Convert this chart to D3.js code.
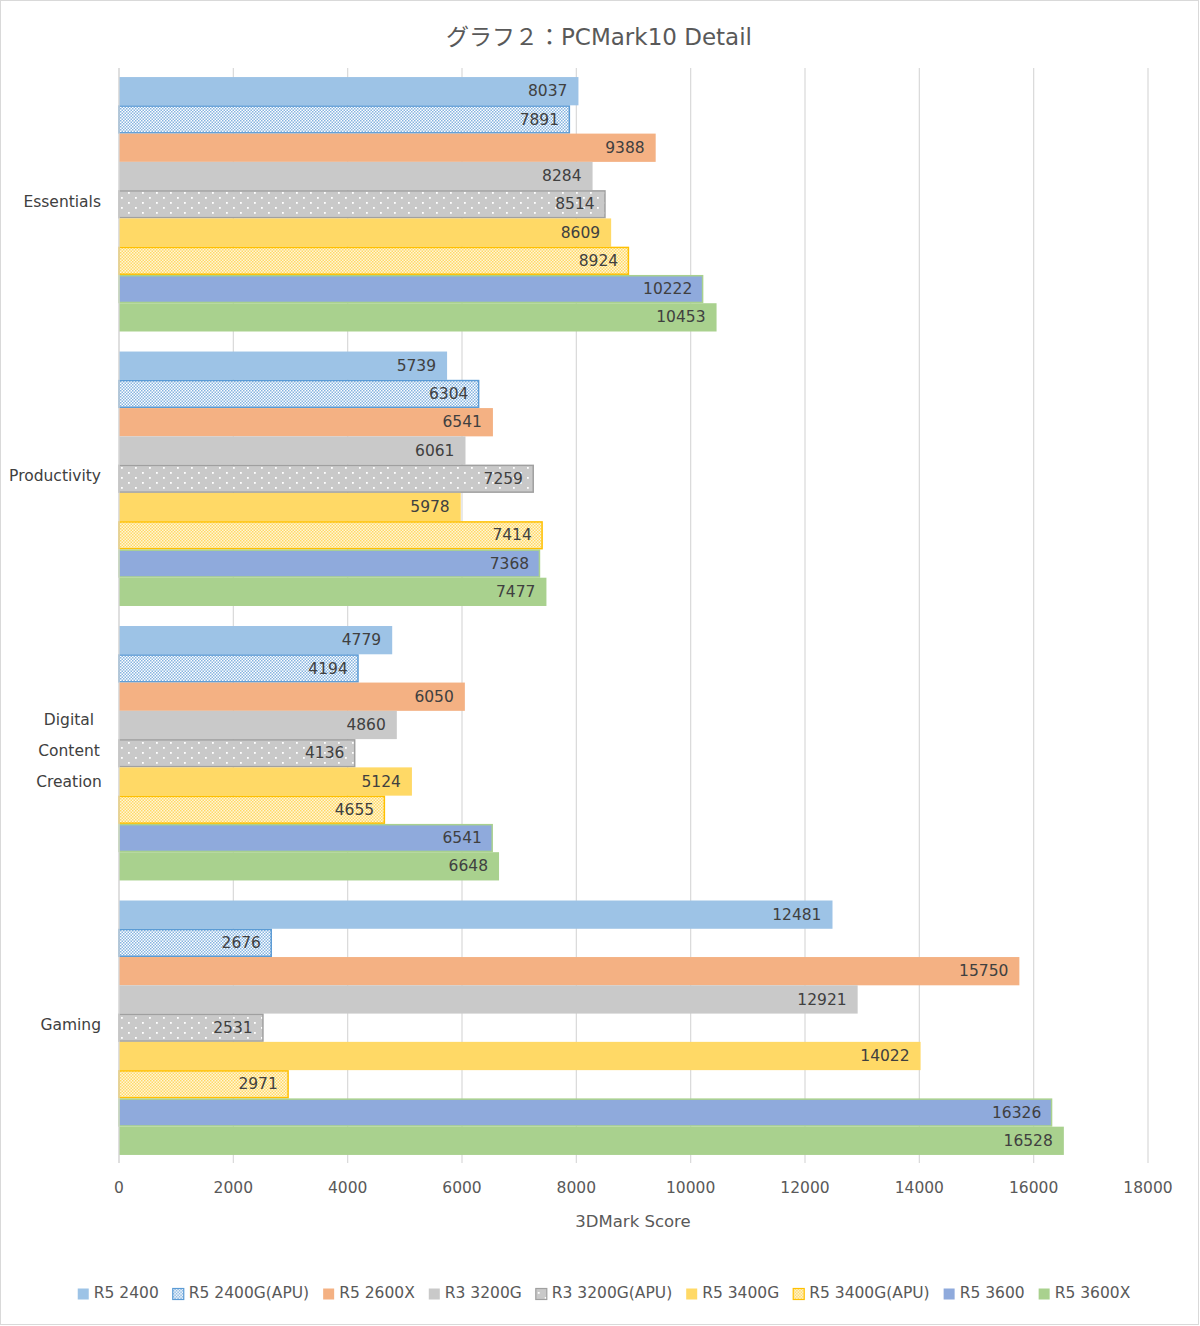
<!DOCTYPE html>
<html><head><meta charset="utf-8">
<script src="https://cdn.jsdelivr.net/npm/d3@7"></script>
<style>body{margin:0;background:#fff}svg{display:block}text{font-family:"DejaVu Sans","Noto Sans CJK JP",sans-serif}</style>
</head><body><svg id="c" width="1200" height="1326"></svg>
<script>
const categories = ["Essentials", "Productivity", "Digital Content Creation", "Gaming"];
const categoryLines = [["Essentials"], ["Productivity"], ["Digital", "Content", "Creation"], ["Gaming"]];
const seriesNames = ["R5 2400", "R5 2400G(APU)", "R5 2600X", "R3 3200G", "R3 3200G(APU)", "R5 3400G", "R5 3400G(APU)", "R5 3600", "R5 3600X"];
const r5_2400     = [8037, 5739, 4779, 12481];
const r5_2400g    = [7891, 6304, 4194, 2676];
const r5_2600x    = [9388, 6541, 6050, 15750];
const r3_3200g    = [8284, 6061, 4860, 12921];
const r3_3200gapu = [8514, 7259, 4136, 2531];
const r5_3400g    = [8609, 5978, 5124, 14022];
const r5_3400gapu = [8924, 7414, 4655, 2971];
const r5_3600     = [10222, 7368, 6541, 16326];
const r5_3600x    = [10453, 7477, 6648, 16528];
const seriesValues = [r5_2400, r5_2400g, r5_2600x, r3_3200g, r3_3200gapu, r5_3400g, r5_3400gapu, r5_3600, r5_3600x];
const xTicks = [0, 2000, 4000, 6000, 8000, 10000, 12000, 14000, 16000, 18000];
const title = "グラフ２：PCMark10 Detail";
const xTitle = "3DMark Score";

const fills = ["#9dc3e6", "url(#p2400g)", "#f4b183", "#c9c9c9", "url(#p3200g)", "#ffd966", "url(#p3400g)", "#8faadc", "#a9d18e"];
const strokes = [null, "#5b9bd5", null, null, "#a0a0a0", null, "#ffc000", "#a9d18e", null];

const svg = d3.select("#c");
const defs = svg.append("defs");
function dotPattern(id, w, h, bg, dotColor, dots, r) {
  const p = defs.append("pattern").attr("id", id).attr("patternUnits", "userSpaceOnUse").attr("width", w).attr("height", h);
  p.append("rect").attr("width", w).attr("height", h).attr("fill", bg);
  dots.forEach(d => p.append("rect").attr("x", d[0]).attr("y", d[1]).attr("width", r).attr("height", r).attr("fill", dotColor));
}
dotPattern("p2400g", 3, 3, "#ffffff", "#86b4e0", [[0,0],[1.5,1.5]], 1.5);
dotPattern("p3200g", 14, 10, "#c9c9c9", "#ffffff", [[2,2],[9,7]], 1.8);
dotPattern("p3400g", 3, 3, "#fff6d8", "#ffd966", [[0,0],[1.5,1.5]], 1.5);

svg.append("rect").attr("x", 0.5).attr("y", 0.5).attr("width", 1198).attr("height", 1324).attr("fill", "#fff").attr("stroke", "#d9d9d9");

const pLeft = 119, pRight = 1148, pTop = 68, pBottom = 1164;
const x = d3.scaleLinear().domain([0, 18000]).range([pLeft, pRight]);
const y = d3.scaleBand().domain(categories).range([pTop, pBottom]).paddingInner(0.073).paddingOuter(0.033);
const ys = d3.scaleBand().domain(seriesNames).range([0, y.bandwidth()]).padding(0);

svg.append("g").selectAll("line").data(xTicks).join("line")
  .attr("x1", d => x(d)).attr("x2", d => x(d)).attr("y1", pTop).attr("y2", pBottom - 1)
  .attr("stroke", "#d9d9d9").attr("stroke-width", 1.2);

const g = svg.append("g");
seriesNames.forEach((s, si) => {
  const sg = g.append("g");
  const st = strokes[si];
  sg.selectAll("rect").data(seriesValues[si]).join("rect")
    .attr("x", x(0))
    .attr("y", (d, i) => y(categories[i]) + ys(s) + (st ? 0.75 : 0))
    .attr("width", d => x(d) - x(0) - (st ? 0.75 : 0))
    .attr("height", ys.bandwidth() - (st ? 1.5 : 0))
    .attr("fill", fills[si])
    .attr("stroke", st || "none")
    .attr("stroke-width", st ? 1.5 : 0);
  sg.selectAll("text").data(seriesValues[si]).join("text")
    .attr("x", d => x(d) - 11)
    .attr("y", (d, i) => y(categories[i]) + ys(s) + ys.bandwidth() / 2)
    .attr("dy", "0.33em").attr("text-anchor", "end")
    .attr("font-size", 15.5).attr("fill", "#404040")
    .text(d => d);
});

svg.append("line").attr("x1", pLeft).attr("x2", pLeft).attr("y1", pTop).attr("y2", pBottom - 1).attr("stroke", "#d9d9d9").attr("stroke-width", 1.2);

categories.forEach((c, i) => {
  const lines = categoryLines[i];
  const cy = y(c) + y.bandwidth() / 2 - 3;
  const lh = 31;
  const multi = lines.length > 1;
  lines.forEach((l, li) => {
    svg.append("text")
      .attr("x", multi ? 69 : 101)
      .attr("y", cy + (li - (lines.length - 1) / 2) * lh)
      .attr("dy", "0.36em").attr("text-anchor", multi ? "middle" : "end")
      .attr("font-size", 15.5).attr("fill", "#404040").text(l);
  });
});

svg.append("g").selectAll("text").data(xTicks).join("text")
  .attr("x", d => x(d)).attr("y", 1187).attr("dy", "0.36em").attr("text-anchor", "middle")
  .attr("font-size", 15.5).attr("fill", "#595959").text(d => d);

svg.append("text").attr("x", 633).attr("y", 1221).attr("dy", "0.36em").attr("text-anchor", "middle")
  .attr("font-size", 16.5).attr("fill", "#595959").text(xTitle);

svg.append("text").attr("x", 599).attr("y", 37).attr("dy", "0.36em").attr("text-anchor", "middle")
  .attr("font-size", 23).attr("fill", "#595959").text(title);

const lg = svg.append("g");
let lx = 0;
seriesNames.forEach((s, si) => {
  const it = lg.append("g").attr("transform", `translate(${lx},0)`);
  it.append("rect").attr("x", 0).attr("y", 1294 - 5.5).attr("width", 11).attr("height", 11)
    .attr("fill", fills[si]).attr("stroke", strokes[si] && si !== 7 ? strokes[si] : "none").attr("stroke-width", 1.2);
  const t = it.append("text").attr("x", 16).attr("y", 1292).attr("dy", "0.36em")
    .attr("font-size", 15.5).attr("fill", "#595959").text(s);
  const w = t.node().getComputedTextLength();
  lx += 16 + w + 14;
});
const totalW = lx - 14;
lg.attr("transform", `translate(${(1200 - totalW) / 2 + 4},0)`);
</script></body></html>
